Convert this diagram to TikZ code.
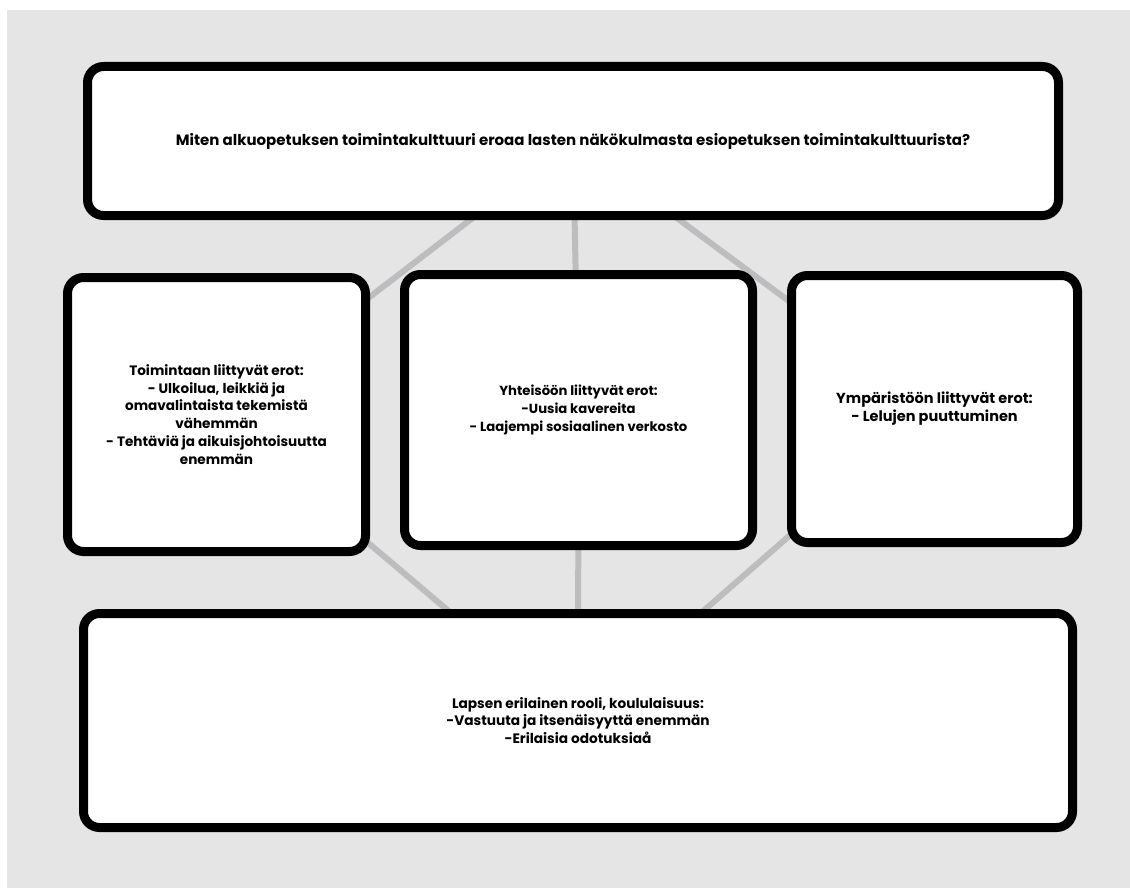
\documentclass[tikz,border=0pt]{standalone}
\usepackage{fontspec}
\setmainfont{Poppins}
\usetikzlibrary{backgrounds}
\definecolor{bggrey}{HTML}{E5E5E5}
\definecolor{linkgrey}{HTML}{BDBDC0}
\pgfdeclarelayer{bglayer}
\pgfdeclarelayer{linklayer}
\pgfsetlayers{bglayer,linklayer,main}
\tikzset{
  box/.style={draw=black, line width=9pt, fill=white, rounded corners=16pt,
    align=center, inner sep=0pt},
  fs/.style={font=\fontsize{#1}{17.8}\selectfont\bfseries},
  link/.style={draw=linkgrey, line width=6pt}
}
\begin{document}
\begin{tikzpicture}[x=1pt,y=-1pt]
\useasboundingbox (0,0) rectangle (1130,888);
\begin{pgfonlayer}{bglayer}
\fill[white] (0,0) rectangle (1130,888);
\fill[bggrey] (7,10) rectangle (1130,888);
\end{pgfonlayer}
\node[box, fs=15, minimum width=971pt, minimum height=149pt] (top) at (573,141)
  {Miten alkuopetuksen toimintakulttuuri eroaa lasten näkökulmasta esiopetuksen toimintakulttuurista?};
\node[box, fs=13.6, minimum width=298pt, minimum height=274pt] (left) at (216.5,414.5)
  {Toimintaan liittyvät erot:\\- Ulkoilua, leikkiä ja\\omavalintaista tekemistä\\vähemmän\\- Tehtäviä ja aikuisjohtoisuutta\\enemmän};
\node[box, fs=13.2, minimum width=348pt, minimum height=271pt] (mid) at (578.5,410)
  {Yhteisöön liittyvät erot:\\-Uusia kavereita\\- Laajempi sosiaalinen verkosto};
\node[box, fs=14.5, minimum width=286pt, minimum height=267pt] (right) at (934.5,409)
  {Ympäristöön liittyvät erot:\\- Lelujen puuttuminen};
\node[box, fs=13.7, minimum width=989pt, minimum height=214pt] (bottom) at (578,720.5)
  {Lapsen erilainen rooli, koululaisuus:\\-Vastuuta ja itsenäisyyttä enemmän\\-Erilaisia odotuksiaå};
\begin{pgfonlayer}{linklayer}
\draw[link] (top.center) -- (left.center);
\draw[link] (top.center) -- (mid.center);
\draw[link] (top.center) -- (right.center);
\draw[link] (left.center) -- (bottom.center);
\draw[link] (mid.center) -- (bottom.center);
\draw[link] (right.center) -- (bottom.center);
\end{pgfonlayer}
\end{tikzpicture}
\end{document}
